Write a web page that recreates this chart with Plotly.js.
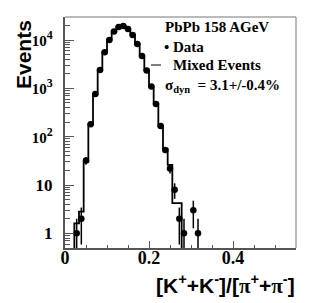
<!DOCTYPE html>
<html>
<head>
<meta charset="utf-8">
<script src="https://cdn.plot.ly/plotly-3.0.1.min.js"></script>
<style>html,body{margin:0;padding:0;background:#fff;}#chart{width:316px;height:303px;}</style>
</head>
<body>
<div id="chart"></div>
<script>
// Histogram binning: bin width 1/90 along [K+K-]/[pi+pi-]
const binWidth = 1 / 90;
const nBins = 50;

// Data (filled circles): bin index and counts
const dataBinIndex = [2, 3, 4, 5, 6, 7, 8, 9, 10, 11, 12, 13, 14, 15, 16, 17, 18, 19, 20, 21, 22, 23, 24, 25, 27, 28];
const dataCounts   = [1, 2, 32, 181, 766, 2405, 5590, 10050, 15070, 18680, 19600, 16980, 12760, 8300, 4680, 2350, 1094, 475, 166, 53, 22, 8, 2, 1, 3, 1];

// Mixed events histogram contents, bins 0..25 (others empty)
const mixedCounts = [0, 0, 1.6, 2.8, 30, 180, 770, 2400, 5600, 10100, 15000, 18700, 19500, 17000, 12800, 8300, 4700, 2350, 1100, 480, 165, 55, 26, 4.2, 4.2, 0];

const yTickVals = [1, 10, 100, 1000, 10000];
const yTickText = ['1', '10',
  '<span style="font-size:15px">10</span><sup>2</sup>',
  '<span style="font-size:15px">10</span><sup>3</sup>',
  '<span style="font-size:15px">10</span><sup>4</sup>'];
const xTickVals = [0, 0.2, 0.4];
const xTickText = ['0', '0.2', '0.4'];

// build traces
const dataX = dataBinIndex.map(i => (i + 0.5) * binWidth);
const dataErr = dataCounts.map(v => Math.sqrt(v));

const stepX = [], stepY = [];
for (let i = 0; i <= nBins; i++) {
  const v = i < mixedCounts.length ? mixedCounts[i] : 0;
  stepX.push(i * binWidth);
  stepY.push(v > 0 ? v : 1e-3);
}

const mixedTrace = {
  x: stepX, y: stepY, type: 'scatter', mode: 'lines',
  line: {shape: 'hv', color: '#000', width: 1.8},
  hoverinfo: 'skip', showlegend: false
};
const dataTrace = {
  x: dataX, y: dataCounts, type: 'scatter', mode: 'markers',
  marker: {color: '#000', size: 6.5},
  error_y: {type: 'data', array: dataErr, visible: true, color: '#000', thickness: 1.5, width: 0},
  showlegend: false
};

const L = 65, T = 17, W = 231, H = 231;
const px = x => (x - L) / W;
const py = y => (T + H - y) / H;

const serif = 'Liberation Serif, Times New Roman, serif';
const sans = 'Liberation Sans, Arial, sans-serif';

const layout = {
  width: 316, height: 303,
  margin: {l: L, r: 316 - L - W, t: T, b: 303 - T - H, pad: 0},
  paper_bgcolor: '#fff', plot_bgcolor: '#fff',
  showlegend: false,
  xaxis: {
    range: [0, 0.55], showgrid: false, zeroline: false,
    showline: true, linecolor: '#555', linewidth: 2,
    ticks: 'inside', ticklen: 7, tickcolor: '#555', tickwidth: 1,
    tickmode: 'array', tickvals: xTickVals, ticktext: xTickText,
    ticklabelstandoff: -8,
    tickfont: {family: serif, size: 18, color: '#000', weight: 'bold'},
    minor: {dtick: 0.05, ticks: 'inside', ticklen: 3.5, tickcolor: '#555', tickwidth: 1, showgrid: false}
  },
  yaxis: {
    type: 'log', range: [-0.304, 4.478], showgrid: false, zeroline: false,
    showline: true, linecolor: '#555', linewidth: 2,
    ticks: 'inside', ticklen: 9, tickcolor: '#555', tickwidth: 1,
    tickmode: 'array', tickvals: yTickVals, ticktext: yTickText,
    ticklabelstandoff: 7,
    tickfont: {family: serif, size: 17, color: '#000', weight: 'bold'},
    minor: {dtick: 'D1', ticks: 'inside', ticklen: 5, tickcolor: '#555', tickwidth: 1, showgrid: false}
  },
  shapes: [
    {type: 'line', xref: 'paper', yref: 'paper', x0: 0, x1: 1, y0: 1, y1: 1, line: {color: '#777', width: 1}},
    {type: 'line', xref: 'paper', yref: 'paper', x0: 1, x1: 1, y0: 0, y1: 1, line: {color: '#777', width: 1}},
    {type: 'line', xref: 'paper', yref: 'paper', x0: px(151), x1: px(161), y0: py(65), y1: py(65), line: {color: '#555', width: 1.5}}
  ],
  annotations: [
    {text: 'PbPb 158 AGeV', xref: 'paper', yref: 'paper', x: px(163), y: py(27), xanchor: 'left', yanchor: 'middle', showarrow: false,
     font: {family: serif, size: 15, color: '#000', weight: 'bold'}},
    {text: '• Data', xref: 'paper', yref: 'paper', x: px(162), y: py(47), xanchor: 'left', yanchor: 'middle', showarrow: false,
     font: {family: serif, size: 15, color: '#000', weight: 'bold'}},
    {text: 'Mixed Events', xref: 'paper', yref: 'paper', x: px(171), y: py(65), xanchor: 'left', yanchor: 'middle', showarrow: false,
     font: {family: serif, size: 15, color: '#000', weight: 'bold'}},
    {text: 'σ<sub>dyn</sub>  = 3.1+/-0.4%', xref: 'paper', yref: 'paper', x: px(163), y: py(86), xanchor: 'left', yanchor: 'middle', showarrow: false,
     font: {family: serif, size: 15, color: '#000', weight: 'bold'}},
    {text: 'Events', xref: 'paper', yref: 'paper', x: px(24), y: py(55), xanchor: 'center', yanchor: 'middle', textangle: -90, showarrow: false,
     font: {family: sans, size: 21, color: '#000', weight: 'bold'}},
    {text: '[K<sup>+</sup>+K<sup>-</sup>]/[<span style="font-family:Liberation Serif">π</span><sup>+</sup>+<span style="font-family:Liberation Serif">π</span><sup>-</sup>]',
     xref: 'paper', yref: 'paper', x: px(297), y: py(284), xanchor: 'right', yanchor: 'middle', showarrow: false,
     font: {family: sans, size: 21, color: '#000', weight: 'bold'}}
  ]
};

Plotly.newPlot('chart', [mixedTrace, dataTrace], layout, {staticPlot: true, displayModeBar: false});
</script>
</body>
</html>
